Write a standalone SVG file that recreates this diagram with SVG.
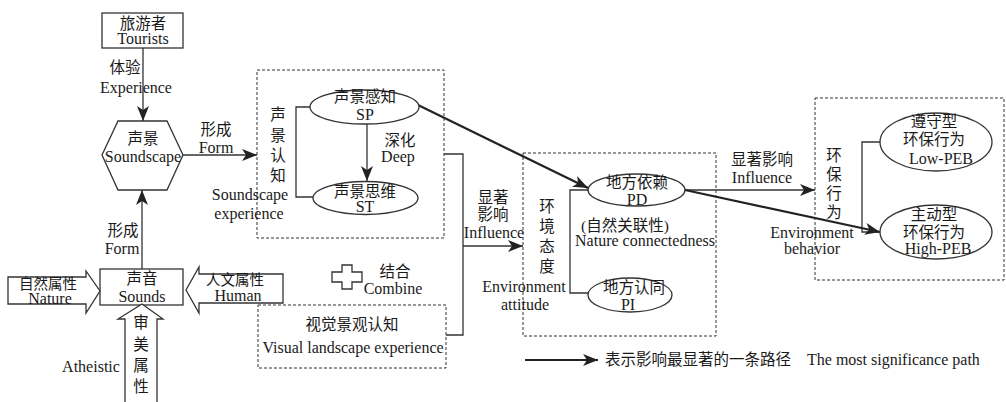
<svg xmlns="http://www.w3.org/2000/svg" width="1006" height="402" viewBox="0 0 1006 402">
<style>
.t{font-family:"Liberation Serif","Noto Sans CJK SC",serif;font-size:16px;fill:#1a1a1a;text-anchor:middle}
.c{font-size:15.5px}
.s{font-size:14.5px}
.ln{fill:none;stroke:#333;stroke-width:1.3}
.thick{fill:none;stroke:#222;stroke-width:2.2}
.box{fill:#fff;stroke:#333;stroke-width:1.3}
.dash{fill:none;stroke:#333;stroke-width:1;stroke-dasharray:3 2}
</style>
<defs>
<marker id="ah" markerUnits="userSpaceOnUse" markerWidth="16" markerHeight="12" refX="15" refY="6" orient="auto">
<path d="M0,0 L15,6 L0,12 L4,6 Z" fill="#222"/>
</marker>
</defs>
<rect width="1006" height="402" fill="#fff"/>

<g id="connectors">
<line class="ln" x1="143" y1="48" x2="143" y2="121" marker-end="url(#ah)"/>
<line class="ln" x1="183" y1="155" x2="257" y2="155" marker-end="url(#ah)"/>
<line class="ln" x1="142" y1="269" x2="142" y2="190" marker-end="url(#ah)"/>
<line class="ln" x1="367" y1="124" x2="367" y2="181" marker-end="url(#ah)"/>
<polyline class="ln" points="310,107 296,107 296,197 313,197"/>
<polyline class="ln" points="444,154 463,154 463,335 446,335"/>
<line class="ln" x1="463" y1="246" x2="523" y2="246" marker-end="url(#ah)"/>
<polyline class="ln" points="588,190 570,190 570,293 588,293"/>
<line class="ln" x1="685" y1="190" x2="815" y2="190" marker-end="url(#ah)"/>
<polyline class="ln" points="880,142 862,142 862,232 880,232"/>
<line class="thick" x1="418" y1="105" x2="588" y2="188" marker-end="url(#ah)"/>
<line class="thick" x1="685" y1="190" x2="880" y2="232" marker-end="url(#ah)"/>
</g>

<g id="tourists">
<rect class="box" x="102" y="13" width="81" height="35"/>
<text class="t c" x="143" y="29">旅游者</text>
<text class="t" x="143" y="44">Tourists</text>
</g>
<g id="label-experience">
<text class="t c" x="125" y="73">体验</text>
<text class="t" x="136" y="93">Experience</text>
</g>

<g id="soundscape">
<polygon class="box" points="102,155 118,121 167,121 183,155 167,190 118,190"/>
<text class="t c" x="143" y="144">声景</text>
<text class="t" x="143" y="162">Soundscape</text>
</g>
<g id="label-form1">
<text class="t c" x="216" y="135">形成</text>
<text class="t" x="216" y="153">Form</text>
</g>
<g id="label-form2">
<text class="t c" x="123" y="236">形成</text>
<text class="t" x="122" y="254">Form</text>
</g>

<g id="soundscape-experience">
<rect class="dash" x="257" y="70" width="187" height="168"/>
<text class="t c" x="278" y="120">声</text>
<text class="t c" x="278" y="141">景</text>
<text class="t c" x="278" y="161">认</text>
<text class="t c" x="278" y="181">知</text>
<text class="t" x="250" y="200">Soundscape</text>
<text class="t" x="249" y="219">experience</text>
</g>
<g id="sp">
<ellipse class="box" cx="364.5" cy="107" rx="54.5" ry="17"/>
<text class="t c" x="365" y="102">声景感知</text>
<text class="t" x="365" y="120">SP</text>
</g>
<g id="st">
<ellipse class="box" cx="365.5" cy="198" rx="52.5" ry="16.5"/>
<text class="t c" x="365" y="197">声景思维</text>
<text class="t" x="365" y="212">ST</text>
</g>
<g id="label-deep">
<text class="t c" x="400" y="146">深化</text>
<text class="t" x="398" y="162">Deep</text>
</g>

<g id="sounds">
<rect class="box" x="100" y="269" width="83" height="36"/>
<text class="t c" x="142" y="284">声音</text>
<text class="t" x="142" y="302">Sounds</text>
</g>
<g id="nature">
<polygon class="box" points="8,277 86,277 86,271 100,291 86,313 86,304 8,304"/>
<text class="t s" x="48" y="289">自然属性</text>
<text class="t" x="50" y="304">Nature</text>
</g>
<g id="human">
<polygon class="box" points="283,274 199,274 199,267 186,290 199,313 199,303 283,303"/>
<text class="t s" x="235" y="285">人文属性</text>
<text class="t" x="238" y="301">Human</text>
</g>
<g id="aesthetic">
<polygon class="box" points="142,304 163,319 157,319 157,403 125,403 125,319 118,319"/>
<text class="t c" x="141" y="328">审</text>
<text class="t c" x="141" y="350">美</text>
<text class="t c" x="141" y="371">属</text>
<text class="t c" x="141" y="392">性</text>
<text class="t" x="91" y="372">Atheistic</text>
</g>

<g id="combine">
<polygon class="box" points="342,265 352,265 352,272 362,272 362,282 352,282 352,289 342,289 342,282 332,282 332,272 342,272"/>
<text class="t c" x="395" y="277">结合</text>
<text class="t" x="393" y="294">Combine</text>
</g>

<g id="visual-landscape">
<rect class="dash" x="258" y="305" width="188" height="63"/>
<text class="t c" x="352" y="330">视觉景观认知</text>
<text class="t" x="353" y="353">Visual landscape experience</text>
</g>

<g id="label-influence1">
<text class="t c" x="493" y="203">显著</text>
<text class="t c" x="493" y="220">影响</text>
<text class="t" x="494" y="238">Influence</text>
</g>

<g id="environment-attitude">
<rect class="dash" x="523" y="153" width="193" height="183"/>
<text class="t c" x="547" y="212">环</text>
<text class="t c" x="547" y="232">境</text>
<text class="t c" x="547" y="252">态</text>
<text class="t c" x="547" y="272">度</text>
<text class="t" x="524" y="292">Environment</text>
<text class="t" x="525" y="310">attitude</text>
<text class="t c" x="625" y="231">(自然关联性)</text>
<text class="t" x="645" y="246">Nature connectedness</text>
</g>
<g id="pd">
<ellipse class="box" cx="636.5" cy="190" rx="48.5" ry="16"/>
<text class="t c" x="637" y="188">地方依赖</text>
<text class="t" x="637" y="205">PD</text>
</g>
<g id="pi">
<ellipse class="box" cx="630" cy="295" rx="42" ry="17"/>
<text class="t c" x="634" y="293">地方认同</text>
<text class="t" x="628" y="310">PI</text>
</g>

<g id="label-influence2">
<text class="t c" x="762" y="165">显著影响</text>
<text class="t" x="762" y="183">Influence</text>
</g>

<g id="environment-behavior">
<rect class="dash" x="815" y="98" width="189" height="182"/>
<text class="t c" x="834" y="161">环</text>
<text class="t c" x="834" y="180">保</text>
<text class="t c" x="834" y="199">行</text>
<text class="t c" x="834" y="218">为</text>
<text class="t" x="812" y="238">Environment</text>
<text class="t" x="812" y="254">behavior</text>
</g>
<g id="low-peb">
<ellipse class="box" cx="936" cy="142" rx="56" ry="29"/>
<text class="t c" x="934" y="127">遵守型</text>
<text class="t c" x="934" y="145">环保行为</text>
<text class="t" x="941" y="164">Low-PEB</text>
</g>
<g id="high-peb">
<ellipse class="box" cx="936" cy="232" rx="56" ry="27"/>
<text class="t c" x="934" y="220">主动型</text>
<text class="t c" x="934" y="238">环保行为</text>
<text class="t" x="938" y="254">High-PEB</text>
</g>

<g id="legend">
<line class="thick" x1="525" y1="360" x2="598" y2="360" marker-end="url(#ah)"/>
<text class="t c" x="605" y="365" style="text-anchor:start">表示影响最显著的一条路径</text>
<text class="t" x="807" y="365" style="text-anchor:start">The most significance path</text>
</g>
</svg>
